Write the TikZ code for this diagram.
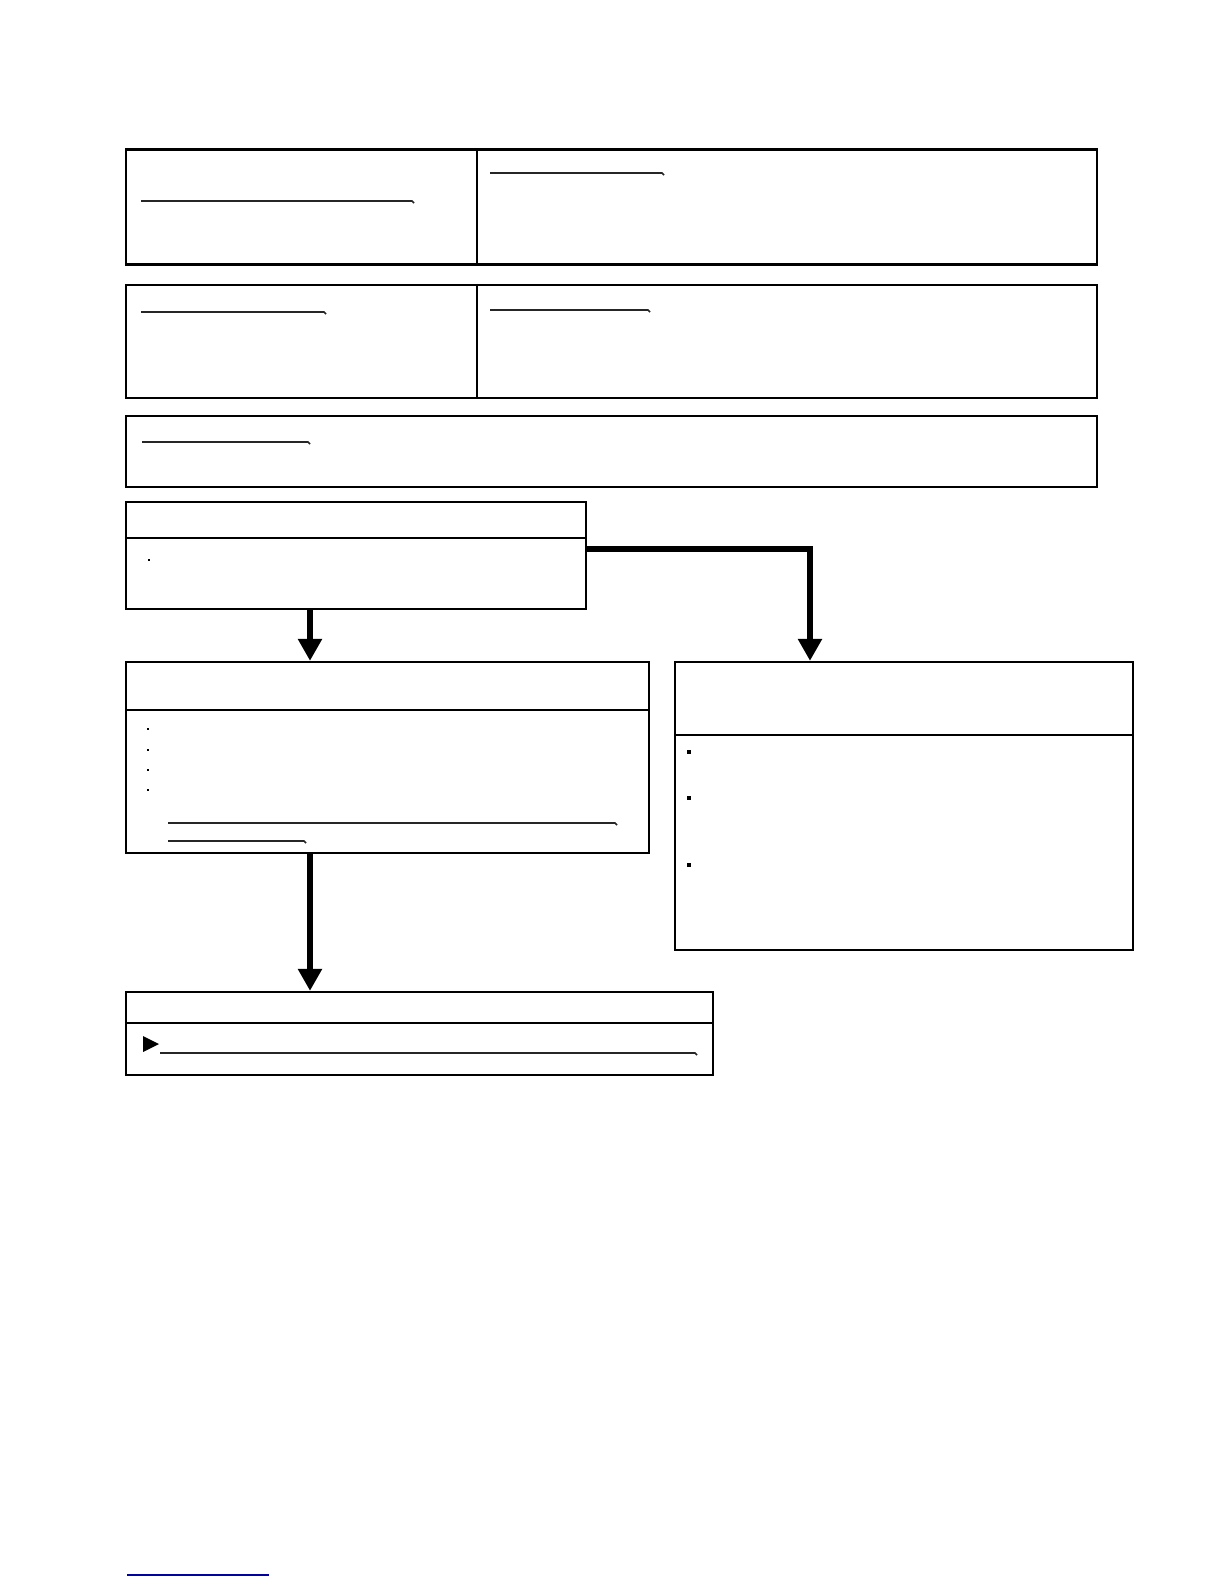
\documentclass[tikz,border=0pt]{standalone}
\usetikzlibrary{fit,arrows.meta}
\definecolor{linkblue}{RGB}{0,0,165}
\begin{document}
\begin{tikzpicture}[x=0.5pt,y=-0.5pt,
  box/.style={draw, line width=1.15pt, inner sep=0pt},
  divider/.style={line width=1.15pt},
  thindiv/.style={line width=0.7pt},
  flow/.style={line width=2.8pt, -{Triangle[width=11.5pt,length=11pt]}},
  uline/.style={line width=0.8pt, black!85},
  bullet/.style={fill=black, draw=none, inner sep=0pt, minimum size=1.2pt},
  bigbullet/.style={fill=black, draw=none, inner sep=0pt, minimum size=1.8pt}]
\useasboundingbox[fill=white] (0,0) rectangle (1224,1584);

% ---- row 1 ----
\node[box, fit={(126,149.5)(1097,264.5)}] (r1) {};
\coordinate (d1) at (477,0);
\draw[divider] (r1.north -| d1) -- (r1.south -| d1);
\draw[uline] (141,201) -- (412,201) -- (414,203);
\draw[uline] (490,173) -- (662,173) -- (664,175);

% ---- row 2 ----
\node[box, fit={(126,285)(1097,398)}] (r2) {};
\draw[divider] (r2.north -| d1) -- (r2.south -| d1);
\draw[uline] (141,312) -- (324,312) -- (326,314);
\draw[uline] (490,310) -- (648,310) -- (650,312);

% ---- row 3 ----
\node[box, fit={(126,416)(1097,487)}] (r3) {};
\draw[uline] (142,442) -- (308,442) -- (310,444);

% ---- box A ----
\node[box, fit={(126,502)(586,609)}] (A) {};
\coordinate (ya) at (0,538);
\draw[divider] (A.west |- ya) -- (A.east |- ya);
\node[bullet] (a1) at (149,560) {};

% ---- box B ----
\node[box, fit={(126,662)(649,853)}] (B) {};
\coordinate (yb) at (0,710);
\draw[thindiv] (B.west |- yb) -- (B.east |- yb);
\node[bullet] (b1) at (148,729) {};
\node[bullet] (b2) at (148,750) {};
\node[bullet] (b3) at (148,770) {};
\node[bullet] (b4) at (148,790) {};
\draw[uline] (168,823) -- (615,823) -- (617,825);
\draw[uline] (168,841) -- (304,841) -- (306,843);

% ---- box C ----
\node[box, fit={(675,662)(1133,950)}] (C) {};
\coordinate (yc) at (0,735);
\draw[thindiv] (C.west |- yc) -- (C.east |- yc);
\node[bigbullet] (c1) at (689,752) {};
\node[bigbullet] (c2) at (689,798) {};
\node[bigbullet] (c3) at (689,865) {};

% ---- box D ----
\node[box, fit={(126,992)(713,1075)}] (D) {};
\coordinate (yd) at (0,1023);
\draw[divider] (D.west |- yd) -- (D.east |- yd);
\fill (143,1036) -- (159,1044) -- (143,1052) -- cycle;
\draw[uline] (160,1053) -- (695,1053) -- (697,1055);

% ---- connectors ----
\coordinate (x310) at (310,0);
\coordinate (x810) at (810,0);
\coordinate (y549) at (0,549);
\draw[flow] (A.south -| x310) -- (B.north -| x310);
\draw[flow] (A.east |- y549) -| (C.north -| x810);
\draw[flow] (B.south -| x310) -- (D.north -| x310);

% ---- footer rule ----
\draw[linkblue, line width=0.8pt] (127,1575) -- (269,1575);
\end{tikzpicture}
\end{document}
